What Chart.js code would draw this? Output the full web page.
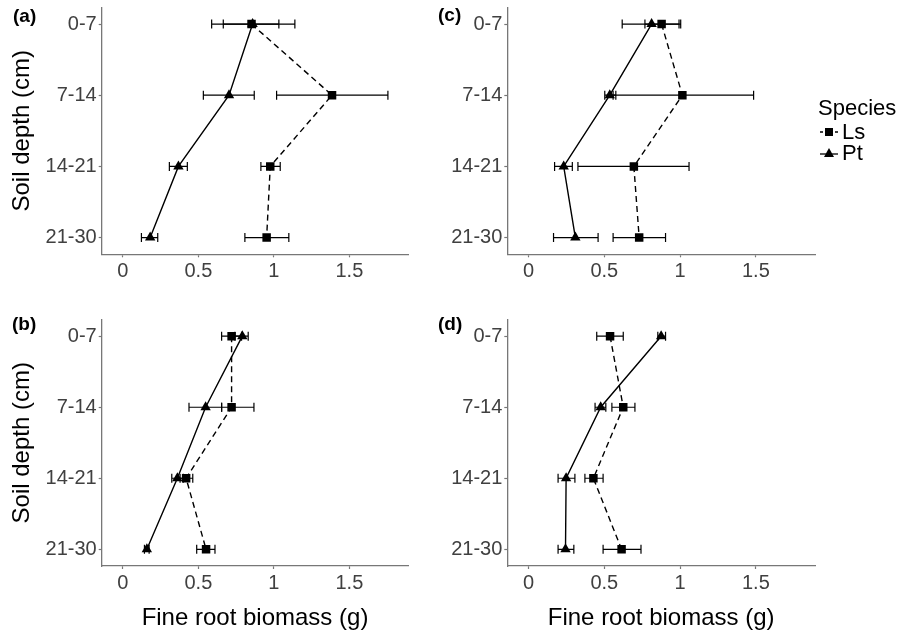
<!DOCTYPE html>
<html>
<head>
<meta charset="utf-8">
<script src="https://cdn.jsdelivr.net/npm/chart.js@4.4.1/dist/chart.umd.min.js"></script>
<style>
    body { margin: 0; background: #fff; }
    #wrap { position: relative; width: 898px; height: 635px; overflow: hidden; font-family: "Liberation Sans", Arial, sans-serif; }
    #wrap canvas { position: absolute; }
    .panel-label { position: absolute; font-weight: bold; font-size: 19px; line-height: 19px; color: #000; }
    .leg { position: absolute; font-size: 22px; line-height: 22px; color: #000; white-space: nowrap; }
    .leg svg { position: absolute; left: -22px; top: 3px; }
</style>
</head>
<body>
<div id="wrap">
    <canvas id="chart-a" width="412" height="300" style="left:0;top:0"></canvas>
    <canvas id="chart-c" width="486" height="300" style="left:412px;top:0"></canvas>
    <canvas id="chart-b" width="412" height="335" style="left:0;top:300px"></canvas>
    <canvas id="chart-d" width="486" height="335" style="left:412px;top:300px"></canvas>

    <div class="panel-label" style="left:13px;top:6px">(a)</div>
    <div class="panel-label" style="left:438px;top:5px">(c)</div>
    <div class="panel-label" style="left:12px;top:314px">(b)</div>
    <div class="panel-label" style="left:438px;top:314px">(d)</div>

    <div class="leg" style="left:818px;top:97px">Species</div>
    <div class="leg" style="left:842px;top:121px">
        <svg width="18" height="16"><line x1="0" y1="8" x2="18" y2="8" stroke="#000" stroke-width="1.3" stroke-dasharray="3,2"/><rect x="5" y="4" width="8" height="8" fill="#000"/></svg>Ls
    </div>
    <div class="leg" style="left:842px;top:142px">
        <svg width="18" height="16"><line x1="0" y1="9" x2="18" y2="9" stroke="#000" stroke-width="1.3"/><polygon points="9,3 14,12 4,12" fill="#000"/></svg>Pt
    </div>
</div>

<script>
// Fine root biomass by soil depth, panels a-d

const depths = ['0-7', '7-14', '14-21', '21-30'];
const xTicks = [0, 0.5, 1, 1.5];

// one row per panel: a, b, c, d
const lsMean = [
    [0.852, 1.385, 0.976, 0.952],
    [0.720, 0.720, 0.419, 0.551],
    [0.878, 1.015, 0.695, 0.730],
    [0.538, 0.625, 0.428, 0.614],
];
const lsLow = [
    [0.665, 1.018, 0.914, 0.808],
    [0.654, 0.654, 0.379, 0.489],
    [0.768, 0.558, 0.326, 0.558],
    [0.450, 0.550, 0.372, 0.492],
];
const lsHigh = [
    [1.033, 1.755, 1.042, 1.099],
    [0.786, 0.868, 0.463, 0.610],
    [0.993, 1.485, 1.059, 0.904],
    [0.625, 0.702, 0.492, 0.742],
];
const ptMean = [
    [0.859, 0.703, 0.368, 0.181],
    [0.791, 0.548, 0.361, 0.159],
    [0.812, 0.536, 0.232, 0.309],
    [0.875, 0.476, 0.248, 0.244],
];
const ptLow = [
    [0.588, 0.533, 0.308, 0.123],
    [0.742, 0.438, 0.324, 0.143],
    [0.618, 0.503, 0.172, 0.165],
    [0.853, 0.439, 0.195, 0.195],
];
const ptHigh = [
    [1.139, 0.870, 0.427, 0.231],
    [0.830, 0.654, 0.400, 0.174],
    [1.004, 0.576, 0.289, 0.459],
    [0.904, 0.510, 0.306, 0.299],
];

Chart.defaults.font.family = '"Liberation Sans", Arial, sans-serif';

// horizontal error bars, drawn under the markers
const errorBars = {
    id: 'errorBars',
    beforeDatasetsDraw(chart) {
        const { ctx } = chart;
        const xs = chart.scales.x;
        const ys = chart.scales.y;
        ctx.save();
        ctx.strokeStyle = '#000';
        ctx.lineWidth = 1.2;
        chart.data.datasets.forEach(ds => {
            ds.data.forEach((pt, i) => {
                const x0 = xs.getPixelForValue(ds.lo[i]);
                const x1 = xs.getPixelForValue(ds.hi[i]);
                const y = ys.getPixelForValue(pt.y);
                ctx.beginPath();
                ctx.moveTo(x0, y); ctx.lineTo(x1, y);
                ctx.moveTo(x0, y - 4.5); ctx.lineTo(x0, y + 4.5);
                ctx.moveTo(x1, y - 4.5); ctx.lineTo(x1, y + 4.5);
                ctx.stroke();
            });
        });
        ctx.restore();
    },
};

function makePanel(canvasId, p, isLeft, isBottom, pad) {
    const el = document.getElementById(canvasId);
    return new Chart(el, {
        type: 'scatter',
        data: {
            datasets: [
                {
                    label: 'Ls',
                    data: lsMean[p].map((v, i) => ({ x: v, y: i + 1 })),
                    lo: lsLow[p],
                    hi: lsHigh[p],
                    showLine: true,
                    borderColor: '#000',
                    borderWidth: 1.4,
                    borderDash: [6, 4],
                    backgroundColor: '#000',
                    pointStyle: 'rect',
                    pointRadius: 6,
                    pointBorderWidth: 0,
                },
                {
                    label: 'Pt',
                    data: ptMean[p].map((v, i) => ({ x: v, y: i + 1 })),
                    lo: ptLow[p],
                    hi: ptHigh[p],
                    showLine: true,
                    borderColor: '#000',
                    borderWidth: 1.4,
                    backgroundColor: '#000',
                    pointStyle: 'triangle',
                    pointRadius: 6,
                    pointBorderWidth: 0,
                },
            ],
        },
        options: {
            responsive: false,
            animation: false,
            devicePixelRatio: 1,
            layout: { autoPadding: false, padding: pad },
            plugins: {
                legend: { display: false },
                tooltip: { enabled: false },
            },
            scales: {
                x: {
                    type: 'linear',
                    min: -0.14,
                    max: 1.89,
                    afterBuildTicks: s => { s.ticks = xTicks.map(v => ({ value: v })); },
                    afterFit: s => { s.height = isBottom ? 69 : 45.7; s.paddingLeft = 0; s.paddingRight = 0; },
                    ticks: { color: '#404040', font: { size: 20 }, padding: 2.5, maxRotation: 0, autoSkip: false, callback: v => String(v) },
                    grid: { drawOnChartArea: false, drawTicks: true, tickLength: 3, color: '#777', tickWidth: 1.2 },
                    border: { color: '#777', width: 1.3 },
                    title: {
                        display: isBottom,
                        text: 'Fine root biomass (g)',
                        color: '#000',
                        font: { size: 24 },
                        padding: { top: 0, bottom: 2.6 },
                    },
                },
                y: {
                    type: 'linear',
                    reverse: true,
                    min: 0.765,
                    max: 4.235,
                    afterBuildTicks: s => { s.ticks = depths.map((d, i) => ({ value: i + 1 })); },
                    afterFit: s => { s.width = isLeft ? 101.7 : 95.3; s.paddingTop = 0; s.paddingBottom = 0; },
                    ticks: { color: '#404040', font: { size: 20 }, padding: 2, autoSkip: false, callback: v => depths[Math.round(v) - 1] },
                    grid: { drawOnChartArea: false, drawTicks: true, tickLength: 3, color: '#777', tickWidth: 1.2 },
                    border: { color: '#777', width: 1.3 },
                    title: {
                        display: isLeft,
                        text: 'Soil depth (cm)',
                        color: '#000',
                        font: { size: 24 },
                        padding: { top: 7.6, bottom: 0 },
                    },
                },
            },
        },
        plugins: [errorBars],
    });
}

makePanel('chart-a', 0, true, false, { top: 7.3, right: 3.7, bottom: 0, left: 0 });
makePanel('chart-b', 1, true, true, { top: 19.5, right: 3.7, bottom: 0, left: 0 });
makePanel('chart-c', 2, false, false, { top: 7.3, right: 83, bottom: 0, left: 0 });
makePanel('chart-d', 3, false, true, { top: 19.5, right: 83, bottom: 0, left: 0 });
</script>
</body>
</html>
